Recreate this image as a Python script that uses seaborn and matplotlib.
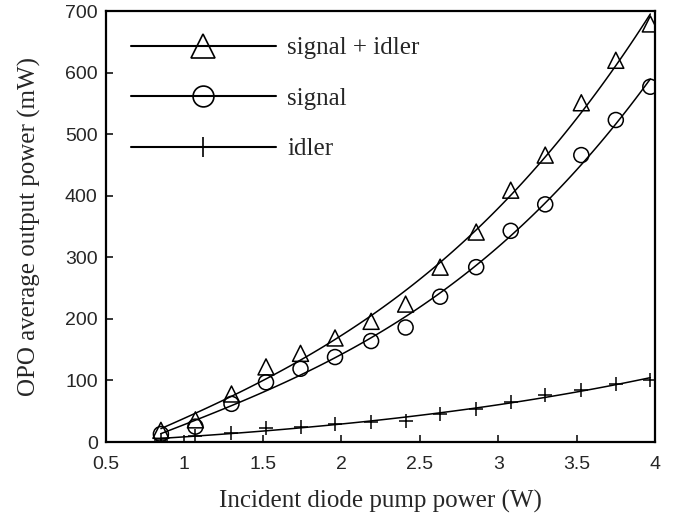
import numpy as np
import pandas as pd
import matplotlib
matplotlib.use("Agg")
import matplotlib.pyplot as plt
from matplotlib.lines import Line2D
import seaborn as sns

# ---- data ----
pump_power = [0.85, 1.07, 1.30, 1.52, 1.74, 1.96, 2.19, 2.41, 2.63, 2.86, 3.08, 3.30, 3.53, 3.75, 3.97]
signal_idler = [19, 36, 78, 122, 144, 169, 196, 224, 284, 341, 409, 466, 551, 620, 679]
signal = [13, 25, 62, 97, 119, 138, 164, 186, 236, 284, 343, 386, 466, 523, 577]
idler = [4, 9, 15, 22, 25, 30, 32, 34, 46, 54, 65, 77, 84, 95, 101]

series_names = ["signal + idler", "signal", "idler"]
series_values = [signal_idler, signal, idler]
x_ticks = [0.5, 1, 1.5, 2, 2.5, 3, 3.5, 4]
y_ticks = [0, 100, 200, 300, 400, 500, 600, 700]

sns.set_style("ticks")
plt.rcParams["font.family"] = ["Liberation Serif", "DejaVu Serif"]

fig = plt.figure(figsize=(6.73, 5.15), dpi=100)
ax = fig.add_axes([0.1575, 0.1417, 0.8158, 0.8369])

markers = ["^", "o", "+"]
msizes = [11.5, 10.8, 10.0]
leg_msizes = [17, 15, 14.5]

df = pd.DataFrame({"x": pump_power})
for name, vals in zip(series_names, series_values):
    df[name] = vals

for name, m, ms in zip(series_names, markers, msizes):
    sns.regplot(data=df, x="x", y=name, order=3, ci=None, ax=ax,
                scatter=False, truncate=True,
                line_kws=dict(color="black", lw=1.1))
    sns.scatterplot(data=df, x="x", y=name, ax=ax, marker=m, s=ms**2,
                    facecolor="none" if m != "+" else "black",
                    edgecolor="black", linewidth=1.1, zorder=3, legend=False)

ax.set_xlim(0.5, 4)
ax.set_ylim(0, 700)
ax.set_xticks(x_ticks)
ax.set_xticklabels([f"{t:g}" for t in x_ticks])
ax.set_yticks(y_ticks)
ax.set_yticklabels([str(t) for t in y_ticks])

for lab in ax.get_xticklabels() + ax.get_yticklabels():
    lab.set_fontfamily(["Liberation Sans", "DejaVu Sans"])
    lab.set_fontsize(14)

ax.tick_params(axis="both", direction="in", length=5, width=1.3, top=False, right=False)
ax.tick_params(axis="x", pad=10)
ax.tick_params(axis="y", pad=6)
for sp in ax.spines.values():
    sp.set_visible(True)
    sp.set_linewidth(1.6)
    sp.set_color("black")

ax.set_xlabel("Incident diode pump power (W)", fontsize=18, labelpad=12)
ax.set_ylabel("OPO average output power (mW)", fontsize=18, labelpad=17)

handles = [Line2D([], [], color="black", lw=1.5, marker=m, ms=ms,
                  markerfacecolor="none", markeredgecolor="black", markeredgewidth=1.2)
           for m, ms in zip(markers, leg_msizes)]
leg = ax.legend(handles, series_names, loc="upper left", bbox_to_anchor=(0.045, 0.94),
                frameon=False, fontsize=18, handlelength=5.8, handletextpad=0.45,
                labelspacing=1.12, borderpad=0, borderaxespad=0, numpoints=1)

fig.savefig("out.png", dpi=100)
